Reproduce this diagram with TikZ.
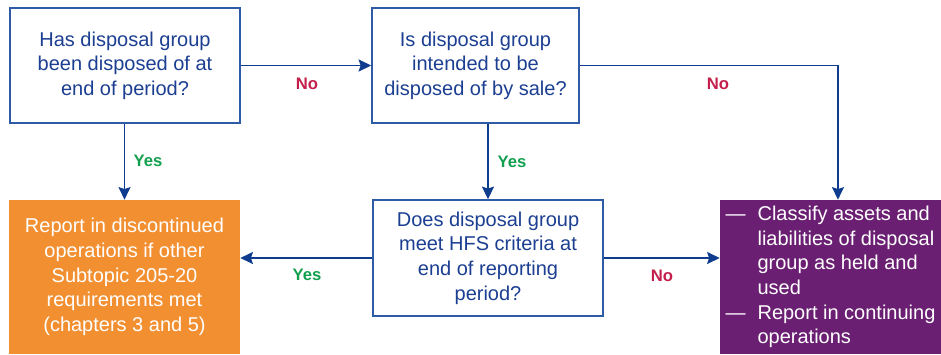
\documentclass[tikz,border=0pt]{standalone}
\usepackage{fontspec}
\setmainfont{Liberation Sans}
\usepackage{tikz}
\usetikzlibrary{arrows.meta,positioning}
\definecolor{boxblue}{HTML}{2F5AA6}
\definecolor{txtblue}{HTML}{1C3F92}
\definecolor{arrblue}{HTML}{0E3C8E}
\definecolor{yesgreen}{HTML}{12A04F}
\definecolor{nored}{HTML}{C41E4A}
\definecolor{resorange}{HTML}{F28F31}
\definecolor{respurple}{HTML}{6B1F73}
\newcommand{\boxfont}{\fontsize{15pt}{18.5pt}\selectfont}
\newcommand{\dashitem}{\makebox[24pt][l]{---}}

\begin{document}
\begin{tikzpicture}[x=0.75pt,y=-0.75pt,
  question/.style={draw=boxblue,line width=1.1pt,fill=white,text=txtblue,
    font=\boxfont,align=center,inner sep=0pt},
  result/.style={text=white,font=\boxfont,inner sep=0pt},
  arr/.style={draw=arrblue,line width=1.1pt,-{Stealth[length=9.5pt,width=9pt,inset=1.5pt]}},
  yes/.style={text=yesgreen,font=\bfseries\fontsize{12.5pt}{14pt}\selectfont},
  no/.style={text=nored,font=\bfseries\fontsize{12.5pt}{14pt}\selectfont}]

\useasboundingbox (0,0) rectangle (941,354);

\node[question,minimum width=172.5pt,minimum height=86.25pt] (1) at (125,65.5)
  {Has disposal group\\been disposed of at\\end of period?};
\node[question,minimum width=155.25pt,minimum height=86.25pt] (2) at (475.5,65.5)
  {Is disposal group\\intended to be\\disposed of by sale?};
\node[result,fill=resorange,align=center,minimum width=173.25pt,minimum height=115.5pt] (3) at (124.5,277)
  {Report in discontinued\\operations if other\\Subtopic 205-20\\requirements met\\(chapters 3 and 5)};
\node[question,minimum width=172.5pt,minimum height=87pt] (4) at (488,258)
  {Does disposal group\\meet HFS criteria at\\end of reporting\\period?};
\node[result,fill=respurple,align=left,minimum width=165.75pt,minimum height=115.5pt] (5) at (830.5,277)
  {\dashitem Classify assets and\\\hspace*{24pt}liabilities of disposal\\\hspace*{24pt}group as held and\\\hspace*{24pt}used\\\dashitem Report in continuing\\\hspace*{24pt}operations};

\draw[arr] (1) -- (2);
\draw[arr] (2.east) -| ([xshift=5.6pt]5.north);
\draw[arr] (1.south -| 3.north) -- (3.north);
\draw[arr] (4.north |- 2.south) -- (4.north);
\draw[arr] (4.west) -- (4.west -| 3.east);
\draw[arr] (4.east) -- (4.east -| 5.west);

\node[no] (n1) at (307,84) {No};
\node[no] (n2) at (718,84) {No};
\node[yes] (y1) at (148,161) {Yes};
\node[yes] (y2) at (512,162) {Yes};
\node[yes] (y3) at (307,275) {Yes};
\node[no] (n3) at (662,276) {No};

\end{tikzpicture}
\end{document}
